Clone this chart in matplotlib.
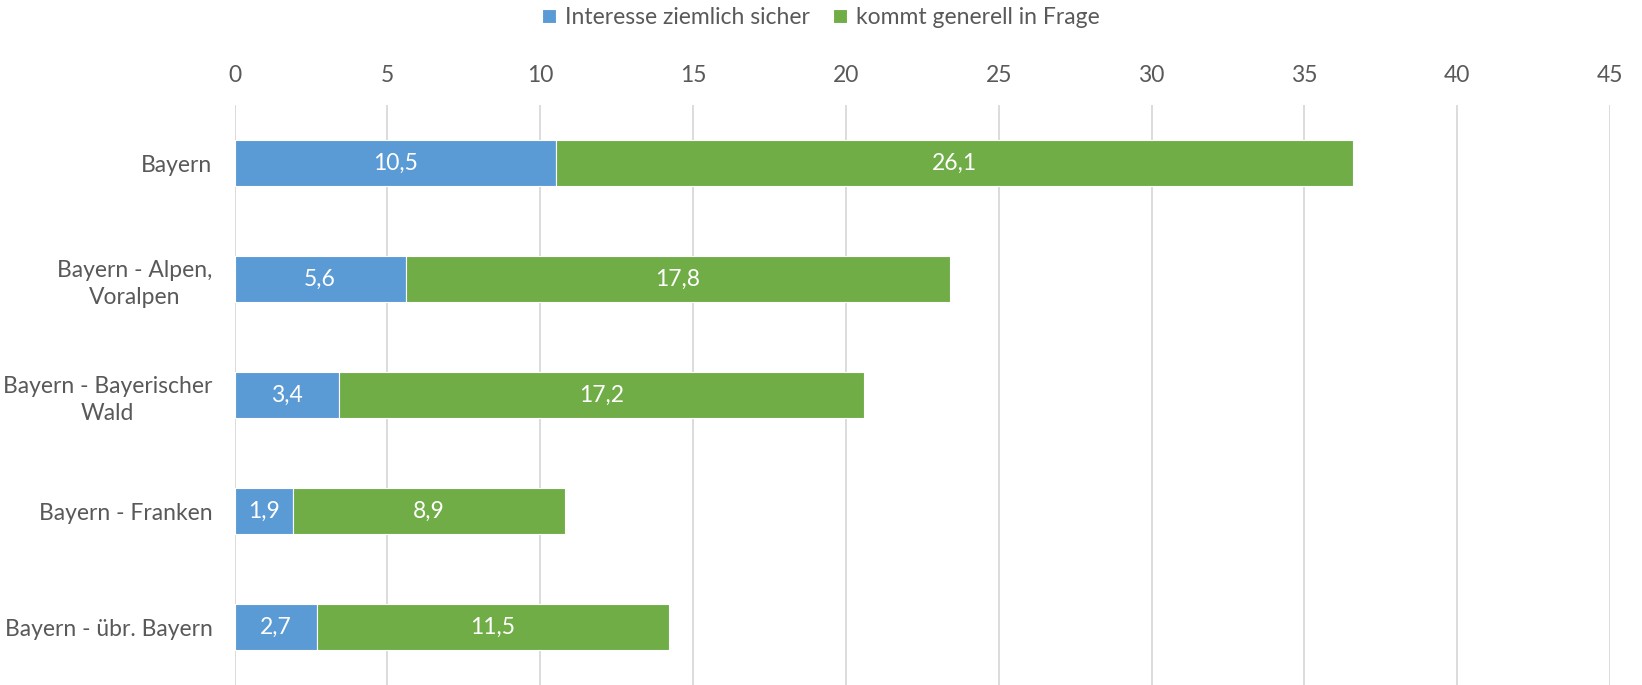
import numpy as np
import matplotlib.pyplot as plt

plt.rcParams['font.family'] = ['Lato', 'DejaVu Sans']

categories = ['Bayern', 'Bayern - Alpen,\nVoralpen', 'Bayern - Bayerischer\nWald',
              'Bayern - Franken', 'Bayern - übr. Bayern']
sicher = [10.5, 5.6, 3.4, 1.9, 2.7]
generell = [26.1, 17.8, 17.2, 8.9, 11.5]
series_names = ['Interesse ziemlich sicher', 'kommt generell in Frage']
xticks = list(range(0, 50, 5))

blue = '#5B9BD5'
green = '#70AD47'
text_col = '#595959'

fig = plt.figure(figsize=(16.42, 6.85), dpi=100)
ax = fig.add_axes([0.1429, 0.0, 0.9805 - 0.1429, 1 - 105 / 685])

y = np.arange(len(categories))
b1 = ax.barh(y, sicher, height=0.4, color=blue, edgecolor='white', linewidth=0.8,
             label=series_names[0], zorder=3)
b2 = ax.barh(y, generell, left=sicher, height=0.4, color=green, edgecolor='white',
             linewidth=0.8, label=series_names[1], zorder=3)

fmt = lambda v: f'{v:.1f}'.replace('.', ',')
ax.bar_label(b1, labels=[fmt(v) for v in sicher], label_type='center',
             color='white', fontsize=16.5)
ax.bar_label(b2, labels=[fmt(v) for v in generell], label_type='center',
             color='white', fontsize=16.5)

ax.set_xlim(0, 45)
ax.set_ylim(len(categories) - 0.5, -0.5)
ax.set_xticks(xticks)
ax.xaxis.tick_top()
ax.tick_params(axis='x', length=0, pad=14, labelsize=16.5, labelcolor=text_col)
ax.set_yticks(y)
ax.set_yticklabels(categories, multialignment='center', linespacing=1.35)
ax.tick_params(axis='y', length=0, pad=16, labelsize=16.5, labelcolor=text_col)
ax.grid(axis='x', color='#D9D9D9', linewidth=1.3, zorder=0)
for s in ax.spines.values():
    s.set_visible(False)

fig.legend(handles=[b1, b2], labels=series_names, loc='upper center',
           bbox_to_anchor=(0.5, 1.02), ncol=2, frameon=False, fontsize=16.5,
           handlelength=0.6, handleheight=0.6, handletextpad=0.4,
           columnspacing=1.0, labelcolor=text_col)

fig.savefig('out.png', dpi=100)
